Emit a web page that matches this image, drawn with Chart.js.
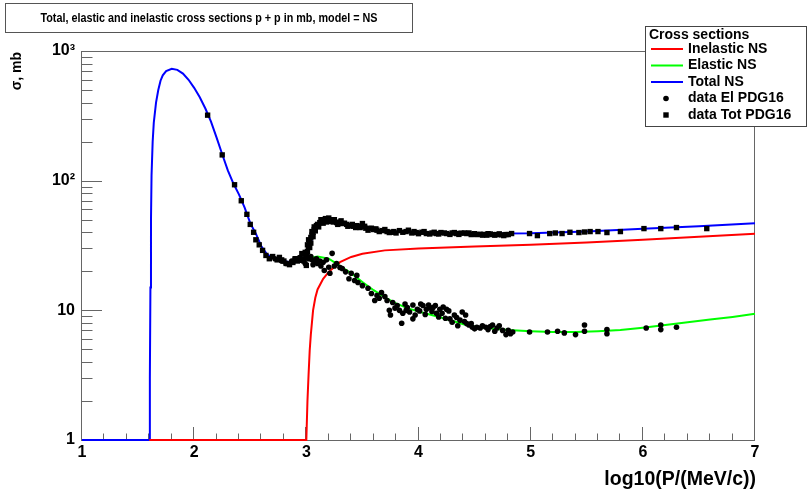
<!DOCTYPE html>
<html>
<head>
<meta charset="utf-8">
<script src="https://cdn.jsdelivr.net/npm/chart.js@4.4.0/dist/chart.umd.min.js"></script>
<style>
html, body { margin: 0; padding: 0; background: #fff; }
</style>
</head>
<body>
<canvas id="c" width="807" height="489"></canvas>
<script>
// axis ticks
const xTicks = [1, 2, 3, 4, 5, 6, 7]
const yTicks = [1, 10, 100, 1000]
const yTickLabels = ['1', '10', '10²', '10³']

// model curves (x = log10(P/(MeV/c)), y = sigma in mb)
const totNsX = [1.0, 1.6, 1.605, 1.61, 1.615, 1.62, 1.63, 1.64, 1.66, 1.68, 1.70, 1.72, 1.75, 1.80, 1.85, 1.90, 1.95, 2.0, 2.05, 2.1, 2.15, 2.2, 2.25, 2.3, 2.35, 2.4, 2.45, 2.5, 2.55, 2.6, 2.65, 2.7, 2.75, 2.8, 2.85, 2.9, 2.95, 3.0, 3.02, 3.04, 3.06, 3.08, 3.1, 3.15, 3.2, 3.25, 3.3, 3.4, 3.5, 3.6, 3.8, 4.0, 4.5, 5.0, 5.5, 6.0, 6.5, 7.0]
const totNsY = [1, 1, 3, 15, 50, 110, 200, 280, 400, 500, 590, 650, 700, 730, 715, 670, 600, 520, 440, 360, 285, 215, 160, 120, 95, 78, 62, 47, 39, 31, 27, 25.5, 24.5, 24, 23.5, 23.5, 24, 25, 28, 33, 38, 42, 45, 48, 49, 48.5, 47.5, 45.5, 43.5, 42, 40.5, 39.8, 39, 39.3, 40.5, 42.5, 44.5, 47]

const elNsX = [2.9, 3.0, 3.1, 3.2, 3.3, 3.4, 3.5, 3.6, 3.7, 3.8, 3.9, 4.0, 4.1, 4.2, 4.3, 4.4, 4.5, 4.6, 4.8, 5.0, 5.2, 5.4, 5.6, 5.8, 6.0, 6.2, 6.4, 6.6, 6.8, 7.0]
const elNsY = [23.5, 25, 26, 25, 22, 19.3, 16.5, 14.3, 12.6, 11.3, 10.4, 9.8, 9.3, 8.8, 8.3, 7.8, 7.5, 7.3, 7.05, 6.9, 6.8, 6.8, 6.9, 7.05, 7.35, 7.7, 8.1, 8.5, 8.9, 9.4]

const inelNsX = [1.6, 3.0, 3.01, 3.02, 3.03, 3.04, 3.06, 3.08, 3.1, 3.15, 3.2, 3.3, 3.4, 3.5, 3.7, 4.0, 4.5, 5.0, 5.5, 6.0, 6.5, 7.0]
const inelNsY = [1, 1, 2, 3.2, 4.9, 6.5, 10, 12.5, 14.5, 17.5, 19.8, 23.5, 25.8, 27.3, 29, 30, 31, 32, 33.3, 35, 37, 39]

// PDG16 data points
const elDataX = [2.72, 2.78, 2.82, 2.87, 2.90, 2.94, 2.97, 3.00, 3.02, 3.05, 3.08, 3.10, 3.13, 3.16, 3.21, 3.23, 3.27, 3.30, 3.32, 3.40,
  3.45, 3.46, 3.55, 3.61, 3.63, 3.67, 3.72, 3.74, 3.77, 3.81, 3.83, 3.85, 3.86, 3.89, 3.90, 3.95, 3.95, 3.99, 4.04, 4.07,
  4.10, 4.13, 4.16, 4.19, 4.21, 4.25, 4.28, 4.30, 4.34, 4.37, 4.39, 4.43, 4.45, 4.48, 4.52, 4.55, 4.60, 4.66, 4.70, 4.75,
  4.78, 4.84, 4.99, 5.15, 5.24, 5.30, 5.40, 5.48, 5.48, 5.68, 5.68, 6.03, 6.16, 6.16, 6.30,
  2.99, 3.04, 3.06, 3.09, 3.12, 3.15, 3.18, 3.20, 3.25, 3.35, 3.38, 3.43, 3.50, 3.58, 3.65, 3.70, 3.75, 3.79, 3.88, 3.92,
  3.97, 4.01, 4.02, 4.06, 4.09, 4.12, 4.15, 4.18, 4.22, 4.24, 4.27, 4.32, 4.35, 4.41, 4.42, 4.47, 4.50, 4.57, 4.62, 4.64,
  4.68, 4.72, 4.80, 4.82]
const elDataY = [25, 24, 23, 24, 25, 25.5, 24, 26.5, 25, 24.5, 23.5, 23, 22, 20.3, 19.3, 27.5, 23, 21.4, 21, 19.3,
  18.6, 16.4, 14.8, 11.9, 13, 13.7, 11.9, 10, 11.5, 10.9, 10, 7.94, 9.5, 10, 10.5, 11, 8.6, 10.2, 10.9, 10.2,
  10.5, 10.5, 9.5, 10.2, 9.5, 10.2, 8.6, 8.1, 8.8, 8.4, 9.7, 7.9, 7.7, 7.4, 7.4, 7.3, 7.4, 7.7, 7.3, 7.0,
  6.5, 6.8, 6.8, 6.8, 6.9, 6.7, 6.5, 7.7, 6.9, 7.1, 6.6, 7.3, 7.7, 7.1, 7.4,
  23, 26, 22.5, 25, 24, 23.5, 24.5, 21.5, 22, 19.8, 17.5, 17, 15.5, 13.5, 12.4, 12.8, 9.2, 10.4, 11.2, 9.7,
  9.2, 9.9, 11.2, 9.3, 11, 9.8, 10.9, 8.9, 10.6, 8.7, 9.9, 9.2, 7.6, 8.2, 9.2, 7.9, 7.2, 7.6, 7.1, 7.5,
  6.9, 7.6, 7.0, 6.6]

const totDataX = [2.12, 2.25, 2.36, 2.42, 2.47, 2.50, 2.53, 2.55, 2.58, 2.61, 2.64, 2.67, 2.70, 2.74, 2.76, 2.78, 2.80, 2.82, 2.85, 2.88,
  2.90, 2.92, 2.94, 2.96, 2.98, 3.00, 3.00, 3.01, 3.02, 3.03, 3.03, 3.04, 3.05, 3.06, 3.07, 3.08, 3.09, 3.10, 3.12, 3.14,
  3.16, 3.19, 3.21, 3.24, 3.27, 3.30, 3.32, 3.36, 3.39, 3.42, 3.45, 3.48, 3.50, 3.53, 3.56, 3.60, 3.63, 3.68, 3.72, 3.74,
  3.78, 3.83, 3.86, 3.89, 3.94, 3.98, 4.03, 4.07, 4.12, 4.16, 4.20, 4.25, 4.30, 4.34, 4.38, 4.43, 4.47, 4.50, 4.52, 4.55,
  4.58, 4.61, 4.64, 4.66, 4.70, 4.74, 4.78, 4.83, 4.99, 5.06, 5.17, 5.22, 5.28, 5.35, 5.43, 5.48, 5.53, 5.60, 5.68, 5.80,
  6.01, 6.16, 6.30, 6.57,
  2.99, 3.01, 3.02, 3.04, 3.05, 3.06, 3.07, 3.08, 3.11, 3.13, 3.15, 3.17, 3.18, 3.20, 3.22, 3.25, 3.28, 3.31, 3.34, 3.37,
  3.41, 3.44, 3.47, 3.52, 3.55, 3.58, 3.62, 3.65, 3.70, 3.76, 3.80, 3.91, 3.96, 4.00, 4.05, 4.10, 4.14, 4.18, 4.23, 4.28,
  4.32, 4.36, 4.41, 4.45, 4.49, 4.57, 4.62, 4.68, 4.72, 4.76, 4.80]
const totDataY = [320, 158, 93, 70, 55, 46, 40, 35, 32, 29, 26.5, 25, 26, 24.5, 25.6, 24.5, 24, 23, 22.5, 23.4,
  25, 24, 24.3, 27.4, 25, 22.2, 26.5, 28.5, 31, 30.5, 34, 36.5, 38, 40, 42, 43.5, 45, 46, 47.5, 49,
  50, 49.3, 50, 48, 47.5, 48, 46.7, 46, 45, 44.5, 45, 43.5, 46.7, 43, 42.7, 42, 41.5, 41.2, 40.5, 39.8,
  40.5, 41.2, 40, 40.5, 39.5, 39.8, 40, 39.1, 39.5, 39.1, 39.8, 39.1, 39.5, 39.1, 39.4, 39.1, 38.4, 39, 38.4, 38.6,
  38.5, 38, 38.8, 38.4, 38.4, 38.2, 38.4, 39.1, 39.1, 37.7, 39.1, 39.5, 39.1, 40, 39.8, 40.2, 40.5, 40.5, 39.8, 40.5,
  42.7, 42.7, 43.5, 42.7,
  28, 32, 35, 33, 40.5, 37, 44, 41, 44, 50, 47, 51, 48, 51.5, 48.5, 50, 46, 49, 47, 44.5,
  46, 43.5, 44.5, 44.5, 41.5, 43, 42.5, 40.5, 42, 40, 39.5, 41.5, 40.5, 39, 40.5, 38.8, 40, 38.8, 39.5, 38.5,
  39.8, 38.5, 39.5, 39.5, 38.6, 38, 39, 38, 38.9, 37.7, 38.4]

const FONT = "'Liberation Sans', Arial, Helvetica, sans-serif"
const pts = (xs, ys) => xs.map((x, i) => ({ x: x, y: ys[i] }))

let text = (ctx, str, x, y, size, align, stretch) => {
	ctx.save()
	ctx.font = 'bold ' + size + 'px ' + FONT
	ctx.textAlign = align || 'left'
	ctx.textBaseline = 'middle'
	ctx.fillStyle = '#000'
	ctx.translate(x, y)
	ctx.scale(stretch || 1, 1)
	ctx.fillText(str, 0, 0)
	ctx.restore()
}

const rootLook = {
	id: 'rootLook',
	beforeDraw: chart => {
		const ctx = chart.ctx
		ctx.save()
		ctx.fillStyle = '#fff'
		ctx.fillRect(0, 0, chart.width, chart.height)
		ctx.restore()
	},
	beforeDatasetsDraw: chart => {
		// frame and inward ticks, drawn under the curves
		const ctx = chart.ctx
		const a = chart.chartArea
		const sx = chart.scales.x, sy = chart.scales.y
		ctx.save()
		ctx.strokeStyle = '#666'
		ctx.lineWidth = 1
		ctx.strokeRect(a.left - 0.5, a.top + 0.5, a.right - a.left, a.bottom - a.top)
		ctx.beginPath()
		for (let k = 0; k <= 30; k++) {
			const px = Math.round(sx.getPixelForValue(1 + k * 0.2)) - 0.5
			const len = k % 5 === 0 ? 13 : 6.5
			ctx.moveTo(px, a.bottom)
			ctx.lineTo(px, a.bottom - len)
		}
		for (let d = 1; d <= 100; d *= 10) {
			for (let m = 1; m <= 9; m++) {
				const py = Math.round(sy.getPixelForValue(d * m)) + 0.5
				const len = m === 1 ? 20 : 10.5
				ctx.moveTo(a.left, py)
				ctx.lineTo(a.left + len, py)
			}
		}
		ctx.stroke()
		ctx.restore()
	},
	afterDraw: chart => {
		const ctx = chart.ctx
		ctx.save()
		// title box
		ctx.fillStyle = '#fff'
		ctx.fillRect(5, 3, 407, 29)
		ctx.strokeStyle = '#555'
		ctx.lineWidth = 1
		ctx.strokeRect(5.5, 3.5, 407, 29)
		text(ctx, 'Total, elastic and inelastic cross sections p + p in mb, model = NS', 209, 18, 13.5, 'center', 0.8)

		// axis titles
		text(ctx, 'log10(P/(MeV/c))', 756, 480, 19.5, 'right')
		ctx.save()
		ctx.translate(17, 52)
		ctx.rotate(-Math.PI / 2)
		text(ctx, 'σ, mb', 0, 0, 14, 'right')
		ctx.restore()

		// legend
		ctx.fillStyle = '#fff'
		ctx.fillRect(645, 26, 161, 100)
		ctx.strokeStyle = '#444'
		ctx.strokeRect(645.5, 26.5, 161, 100)
		text(ctx, 'Cross sections', 649, 35, 14)
		const rows = [
			{ label: 'Inelastic NS', color: '#ff0000' },
			{ label: 'Elastic NS', color: '#00ff00' },
			{ label: 'Total NS', color: '#0000ff' },
			{ label: 'data El PDG16', marker: 'circle' },
			{ label: 'data Tot PDG16', marker: 'rect' }
		]
		rows.forEach((r, i) => {
			const yy = 49 + i * 16.5
			if (r.color) {
				ctx.strokeStyle = r.color
				ctx.lineWidth = 2
				ctx.beginPath()
				ctx.moveTo(651, yy)
				ctx.lineTo(683, yy)
				ctx.stroke()
			} else {
				ctx.fillStyle = '#000'
				ctx.beginPath()
				if (r.marker === 'circle') ctx.arc(666, yy, 2.8, 0, Math.PI * 2)
				else ctx.rect(663.3, yy - 2.7, 5.4, 5.4)
				ctx.fill()
			}
			text(ctx, r.label, 688, yy, 14)
		})
		ctx.restore()
	}
}

const lineDs = (label, xs, ys, color, order) => ({
	label: label,
	data: pts(xs, ys),
	showLine: true,
	borderColor: color,
	backgroundColor: color,
	borderWidth: 2,
	pointRadius: 0,
	tension: 0,
	clip: 4,
	order: order
})

new Chart(document.getElementById('c'), {
	type: 'scatter',
	data: {
		datasets: [
			{ label: 'data El PDG16', data: pts(elDataX, elDataY), pointStyle: 'circle', pointRadius: 2.8, backgroundColor: '#000', borderWidth: 0, order: 0 },
			{ label: 'data Tot PDG16', data: pts(totDataX, totDataY), pointStyle: 'rect', pointRadius: 3.8, backgroundColor: '#000', borderWidth: 0, order: 1 },
			lineDs('Inelastic NS', inelNsX, inelNsY, '#ff0000', 2),
			lineDs('Total NS', totNsX, totNsY, '#0000ff', 3),
			lineDs('Elastic NS', elNsX, elNsY, '#00ff00', 4)
		]
	},
	options: {
		responsive: false,
		animation: false,
		layout: { padding: { top: 51, right: 52, left: 0, bottom: 0 } },
		plugins: { legend: { display: false }, tooltip: { enabled: false }, title: { display: false } },
		scales: {
			x: {
				type: 'linear', min: 1, max: 7,
				afterBuildTicks: s => { s.ticks = xTicks.map(v => ({ value: v })) },
				afterFit: s => { s.height = 49 },
				grid: { display: false, drawTicks: false },
				border: { display: false },
				ticks: { padding: 3, color: '#000', maxRotation: 0, autoSkip: false, font: { family: FONT, size: 16, weight: 'bold' }, callback: v => String(v) }
			},
			y: {
				type: 'logarithmic', min: 1, max: 1000,
				afterBuildTicks: s => { s.ticks = yTicks.map(v => ({ value: v })) },
				afterFit: s => { s.width = 82 },
				grid: { display: false, drawTicks: false },
				border: { display: false },
				ticks: { padding: 7, color: '#000', autoSkip: false, font: { family: FONT, size: 16, weight: 'bold' }, callback: v => yTickLabels[yTicks.indexOf(v)] }
			}
		}
	},
	plugins: [rootLook]
})
</script>
</body>
</html>
